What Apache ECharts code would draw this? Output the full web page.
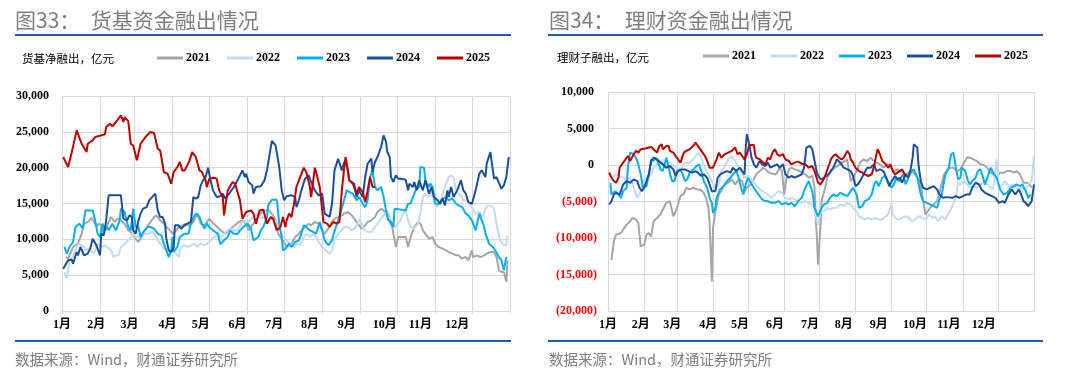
<!DOCTYPE html>
<html><head><meta charset="utf-8">
<script src="https://cdn.jsdelivr.net/npm/echarts@6/dist/echarts.min.js"></script>
<style>html,body{margin:0;padding:0;background:#fff}#c{width:1080px;height:373px}</style>
</head><body><div id="c"></div>
<script>
const years = ['2021','2022','2023','2024','2025'];
const colors = ['#a6a6a6','#c2dbf5','#00b0f0','#1a4fa0','#c00000'];
const monthLabels = ['1月','2月','3月','4月','5月','6月','7月','8月','9月','10月','11月','12月'];
const monthStartDays = [0,31,59,90,120,151,181,212,243,273,304,334,365];
const labelDays = [0,28,55,86,113,143,173,202,232,263,292,322];

// 货基净融出（亿元）: [day of year, value]
const mmf2021 = [[3,7530],[5,7300],[9,8930],[13,9390],[16,10790],[18,12180],[21,12415],[24,13020],[27,12180],[28,11720],[30,12180],[32,11950],[34,10790],[36,11720],[38,12415],[40,13110],[43,12415],[45,12880],[48,12650],[51,12180],[54,11250],[56,11020],[59,10320],[62,9630],[64,10090],[67,11020],[70,11950],[72,12415],[75,13110],[77,13350],[80,12650],[83,12180],[85,11720],[88,11250],[90,10790],[93,11250],[95,11720],[98,11950],[101,12180],[103,11950],[106,12180],[109,13110],[111,13350],[113,12180],[116,11950],[118,12415],[120,12880],[122,12415],[125,11950],[128,11490],[131,11020],[133,10790],[136,11250],[139,11720],[141,11950],[144,12415],[147,12650],[150,12180],[152,11250],[155,11950],[158,12650],[160,13110],[163,13810],[166,14040],[168,14140],[171,13580],[174,12650],[176,10790],[178,10320],[180,9860],[183,8930],[185,9160],[187,9390],[190,10320],[193,10790],[195,11250],[198,11720],[201,12180],[203,11950],[206,12415],[209,12180],[212,11250],[214,10790],[217,11490],[220,12415],[222,12880],[225,13110],[228,13350],[230,13580],[233,13810],[236,13350],[238,12880],[241,12180],[244,11490],[247,11950],[249,12415],[252,12650],[255,13110],[257,13810],[260,14280],[262,14040],[264,13580],[267,12415],[269,11720],[272,8930],[274,10320],[276,10320],[280,10320],[282,8930],[284,10320],[287,11720],[290,12415],[292,12180],[294,11250],[296,10790],[299,10090],[302,10320],[304,9390],[307,8930],[310,8700],[313,8460],[315,8230],[318,8000],[321,7770],[323,7770],[326,7300],[329,7530],[331,7070],[334,8460],[335,7530],[338,7770],[341,7530],[344,7770],[346,8000],[349,8230],[352,8230],[354,7530],[356,5670],[358,5440],[360,5440],[362,4050],[363,7070]];
const mmf2022 = [[2,5440],[4,4510],[6,7070],[9,7530],[12,8930],[14,9390],[16,9160],[18,8930],[20,8460],[22,8700],[26,8000],[29,9390],[32,8930],[35,9160],[37,8930],[40,8460],[42,7530],[44,7770],[46,7770],[48,8930],[51,9390],[54,9860],[56,10320],[58,10790],[60,10320],[63,10320],[66,10790],[68,10790],[71,10790],[74,11020],[77,10320],[79,9630],[82,8930],[85,8460],[87,8000],[90,8460],[93,8000],[95,7530],[97,8930],[100,9160],[102,8930],[105,9160],[108,9390],[110,8930],[113,9390],[116,9160],[118,9390],[121,9860],[124,10320],[127,10790],[129,10320],[132,10790],[135,11250],[137,11490],[140,11250],[143,11250],[145,11950],[148,12650],[151,12180],[154,12880],[156,13110],[159,13580],[162,12880],[164,13110],[167,12650],[170,12880],[172,12650],[175,12415],[178,11250],[180,10320],[183,9860],[186,9390],[189,8930],[191,9390],[194,9160],[197,10320],[199,10790],[202,10320],[205,10790],[207,10320],[210,9390],[212,8930],[215,8460],[218,8000],[220,8460],[222,9860],[225,10790],[228,11250],[230,11720],[233,11720],[236,11250],[238,11490],[241,12180],[243,12880],[245,11720],[247,11250],[249,11020],[252,11020],[255,11720],[257,12180],[260,12880],[263,13580],[265,14040],[267,13110],[269,12180],[272,11720],[275,12415],[278,13580],[280,14040],[282,12650],[284,11720],[287,11490],[290,12180],[292,13580],[294,15900],[296,16370],[299,15900],[301,16600],[303,15440],[305,14500],[308,14970],[310,16370],[313,17760],[315,18690],[317,18920],[319,18690],[321,16830],[323,16370],[326,15900],[327,15440],[330,15440],[333,14740],[335,14040],[337,13580],[340,13810],[343,13110],[345,14280],[347,14740],[350,14600],[352,14280],[353,13110],[355,11250],[357,9860],[360,9160],[362,9160],[363,10560]];
const mmf2023 = [[2,8930],[4,8000],[6,8930],[9,9630],[11,11720],[14,12180],[17,11490],[19,14040],[25,14040],[27,12650],[29,10790],[31,10320],[33,12180],[35,11250],[37,11720],[38,11250],[41,12180],[44,11250],[47,12650],[48,14280],[51,13810],[52,13110],[54,11720],[56,11250],[58,14280],[60,11720],[62,11950],[64,10320],[67,11250],[70,11720],[72,11720],[75,11490],[78,10790],[81,10560],[83,9390],[85,8460],[87,7530],[89,8460],[90,10320],[91,8230],[94,8930],[96,10320],[100,10790],[103,10790],[105,12180],[108,13350],[110,13580],[112,13110],[114,12180],[116,11490],[118,12180],[120,11720],[123,11250],[127,10790],[129,9300],[132,9860],[135,10320],[137,11250],[140,10790],[143,10700],[145,11250],[148,11720],[151,12180],[154,11490],[156,9860],[160,10320],[162,11250],[164,11720],[167,13110],[168,14740],[171,15530],[175,15530],[176,14040],[177,12180],[179,10320],[180,8460],[182,8700],[185,9390],[187,8930],[190,9630],[193,9860],[195,10790],[197,11950],[199,11720],[202,11250],[205,11020],[207,10790],[210,12415],[212,11250],[214,9860],[217,9160],[220,9860],[221,10560],[224,12180],[226,13110],[229,14970],[232,16830],[234,16600],[237,16370],[240,15440],[242,15900],[245,14970],[247,14500],[249,15440],[251,18690],[253,19620],[255,17300],[257,16830],[260,17300],[262,15900],[264,14040],[266,12650],[268,12415],[270,11720],[271,14280],[280,14040],[282,14970],[284,14970],[286,15900],[288,16830],[291,17300],[292,20090],[295,20000],[296,18230],[299,17300],[300,17760],[302,17300],[304,14970],[307,14970],[310,15670],[313,15900],[315,15440],[318,15670],[321,14970],[323,14740],[326,14500],[329,13580],[331,13350],[334,12650],[337,11250],[340,13580],[342,12650],[344,11720],[345,10790],[348,9390],[351,8930],[353,8460],[356,7530],[358,7070],[360,5670],[361,6600],[362,7530]];
const mmf2024 = [[1,5900],[2,5670],[5,7070],[8,7160],[9,6600],[12,8230],[13,7770],[15,8930],[18,7770],[21,8000],[23,8700],[25,10090],[28,9160],[31,7770],[32,10790],[34,10560],[36,12650],[38,16140],[48,16140],[50,12880],[51,13110],[53,12650],[55,13350],[57,13110],[58,11250],[60,10790],[62,12415],[64,13580],[66,14280],[67,14040],[69,14500],[71,15440],[74,16000],[76,16370],[77,15200],[78,14040],[80,13110],[82,13110],[84,12180],[85,10090],[87,8460],[89,8230],[91,8930],[92,11950],[95,11950],[97,11490],[100,11950],[102,12180],[105,12415],[107,15900],[109,15670],[111,15900],[113,17530],[115,18230],[117,18690],[119,20000],[121,18230],[123,16830],[126,15900],[129,16000],[131,16370],[133,15670],[137,16600],[140,17300],[143,18230],[147,19620],[149,18690],[150,19160],[152,18000],[155,17530],[156,16370],[158,17300],[162,17400],[165,18230],[167,19620],[169,21720],[171,23720],[174,23110],[177,20090],[179,16830],[181,15440],[183,16000],[187,16140],[190,15900],[191,14500],[193,15440],[195,16830],[198,18460],[201,18920],[203,18000],[206,16830],[209,16140],[212,16370],[214,13580],[218,13110],[220,14970],[222,19620],[225,21250],[228,19620],[230,20790],[232,20320],[234,18230],[238,17760],[240,15900],[242,16830],[245,15900],[247,18690],[249,20550],[252,21250],[253,19390],[255,20790],[257,21480],[260,22880],[262,24500],[264,23580],[265,22180],[267,21480],[268,18690],[270,18000],[272,18920],[274,18460],[276,18460],[280,18320],[282,16830],[283,17760],[286,17300],[287,18000],[289,16830],[291,18230],[294,16830],[296,18230],[299,16370],[301,17300],[303,15900],[306,15440],[308,14970],[310,15670],[312,14740],[314,16830],[315,15900],[317,17300],[319,15900],[322,16830],[325,18230],[327,16830],[329,16370],[331,15200],[334,14970],[337,16830],[340,19160],[342,19620],[345,18690],[346,20550],[349,22180],[352,18460],[354,18690],[358,17070],[360,17530],[362,18690],[364,21480]];
const mmf2025 = [[1,21480],[5,20090],[8,22180],[12,25200],[13,25300],[16,23340],[20,22180],[21,23340],[25,23800],[27,24270],[35,24650],[36,25670],[39,26130],[41,25760],[44,26370],[48,27300],[50,26370],[51,27060],[54,26500],[56,23340],[58,23100],[61,21020],[64,23340],[68,24270],[72,24970],[75,24830],[78,22650],[80,22400],[83,19390],[86,19160],[89,17760],[91,19390],[94,20090],[96,20790],[98,19620],[100,19620],[104,21020],[106,22180],[109,21480],[112,19620],[114,19390],[117,18230],[118,17300],[120,18460],[124,18600],[126,18460],[128,16830],[131,15900],[132,13350],[135,16830],[139,18000],[141,17760],[145,15440],[147,12880],[150,13810],[154,14040],[156,13580],[158,12180],[161,14040],[164,14140],[167,12180],[170,13110],[172,12880],[175,11250],[178,11720],[180,13110],[182,11720],[183,12650],[185,13580],[187,13110],[189,14970],[191,17300],[194,18690],[197,20000],[199,19390],[202,17300],[203,15900],[206,20000],[207,19390],[210,17300],[213,12415],[216,12180],[218,11720],[221,12415],[224,12180],[226,12415],[228,16830],[230,20090],[231,21480],[233,19620],[234,18230],[237,17760],[240,16370],[242,17300],[245,16600],[247,15200],[249,16830],[251,18690],[253,17300],[255,17300]];

// 理财子融出（亿元）: [day of year, value]
const wm2021 = [[3,-13000],[5,-10460],[7,-9540],[11,-9310],[14,-8620],[16,-8170],[19,-7710],[21,-7250],[24,-7480],[26,-7940],[28,-11150],[31,-10920],[33,-9540],[35,-9310],[37,-9770],[39,-7710],[42,-7250],[45,-6790],[47,-6100],[50,-5180],[53,-4950],[55,-6330],[56,-7020],[58,-6330],[60,-5410],[62,-4270],[65,-3950],[67,-3120],[70,-3350],[73,-3120],[76,-3350],[79,-3350],[82,-3810],[84,-4500],[86,-5870],[87,-7710],[89,-15960],[90,-8620],[92,-6330],[95,-4040],[97,-3580],[100,-2660],[103,-2430],[106,-1970],[109,-2660],[112,-1970],[115,-2200],[117,-3580],[119,-3120],[122,-2660],[124,-2200],[127,-1280],[130,-830],[133,-370],[135,-600],[138,-1050],[141,-1190],[144,-1280],[147,-370],[149,-830],[151,-4040],[153,-1740],[155,-600],[157,-370],[160,-600],[163,-730],[166,-1050],[169,-1280],[172,-1740],[175,-1510],[177,-3120],[178,-7250],[179,-10000],[180,-13670],[182,-8620],[183,-4950],[186,-3120],[188,-1740],[191,-830],[194,-370],[197,-140],[200,320],[203,550],[205,780],[206,-370],[208,-2200],[210,-1740],[213,-830],[216,320],[219,780],[222,550],[225,1000],[228,550],[230,320],[233,90],[236,-370],[239,90],[242,-370],[245,-830],[248,-600],[250,-830],[253,-1050],[256,-1280],[259,-830],[262,-1050],[265,-1740],[268,-2660],[270,-4950],[272,-6790],[274,-6330],[276,-5870],[279,-5410],[282,-4950],[285,-3120],[288,-1280],[290,-830],[293,-370],[296,-370],[299,-830],[302,-600],[305,320],[308,1100],[310,1000],[313,780],[316,550],[319,90],[322,0],[325,-370],[328,-1050],[330,-1280],[333,-1740],[336,-1050],[339,-1050],[342,-830],[345,-830],[348,-1050],[350,-830],[353,-1280],[356,-2430],[359,-2430],[361,-2660],[363,-3120]];
const wm2022 = [[2,-1740],[5,-1510],[7,-1280],[10,-1510],[13,-1740],[16,-1970],[19,-1740],[22,-3120],[25,-4500],[26,-4720],[28,-3580],[30,-2200],[33,-1740],[36,-1510],[39,-370],[42,90],[45,550],[47,320],[50,90],[53,320],[56,-140],[59,-370],[62,-830],[65,90],[67,320],[70,320],[73,780],[76,1470],[78,1700],[80,1000],[83,-370],[86,-1280],[89,-2200],[92,-3120],[95,-2660],[97,-830],[100,-140],[103,780],[106,1240],[109,550],[112,-370],[115,-1280],[117,-1740],[120,-1510],[123,-1970],[126,-2660],[129,-3120],[132,-3580],[135,-3810],[137,-4040],[140,-4500],[143,-4040],[146,-3580],[149,-3810],[152,-4500],[155,-4720],[157,-4500],[160,-4720],[163,-4950],[166,-5180],[169,-4950],[172,-5180],[175,-5410],[177,-5870],[179,-7710],[180,-8170],[182,-6560],[185,-6330],[188,-5870],[190,-6100],[193,-5870],[196,-5870],[199,-5410],[202,-5640],[205,-5180],[208,-5410],[210,-5870],[213,-6330],[215,-7020],[218,-7250],[220,-7480],[223,-7250],[226,-7480],[229,-7250],[232,-7480],[235,-7480],[238,-7020],[240,-6790],[243,-5180],[244,-6790],[246,-7250],[249,-7480],[252,-7250],[255,-7020],[258,-7250],[260,-7710],[263,-7480],[266,-7020],[269,-7250],[272,-7480],[275,-6790],[278,-7250],[280,-7020],[283,-7710],[286,-7020],[289,-7480],[292,-6560],[295,-5640],[298,-4500],[300,-2430],[302,-2660],[305,-2200],[308,-2660],[310,-3120],[313,-2890],[316,-3120],[319,-2660],[322,-2430],[325,-2660],[328,-3120],[330,-3350],[333,780],[335,-3120],[338,-2660],[340,-2200],[343,-2890],[346,-2660],[349,-2890],[352,-3350],[355,-3120],[358,-3350],[360,-2660],[363,-2200],[365,1240]];
const wm2023 = [[2,-2430],[3,-4040],[6,-3580],[9,-4040],[11,-4500],[13,-3580],[16,-3120],[17,-370],[19,1700],[22,1470],[24,1000],[26,90],[28,-1280],[30,-3120],[33,-2890],[35,-1280],[37,780],[39,550],[41,1000],[43,320],[45,-600],[47,-830],[50,1000],[52,-370],[54,-1740],[55,-2200],[57,-2200],[59,-830],[62,-600],[64,-1280],[66,-2200],[68,-1970],[70,-1050],[73,-600],[76,-140],[78,90],[80,-830],[82,-2200],[85,-3120],[87,-4500],[89,-5180],[90,-6560],[92,-5870],[93,-4500],[96,-3350],[99,-2890],[102,-2200],[105,-1740],[107,-1280],[110,-830],[112,-1740],[114,-3120],[116,-4040],[118,-2660],[120,-1740],[123,-2660],[126,-3350],[129,-4040],[132,-4720],[135,-4950],[137,-4950],[140,-5180],[143,-5180],[146,-4950],[149,-5410],[152,-5180],[155,-5410],[157,-5180],[160,-5640],[163,-4950],[166,-4500],[169,-3120],[172,-2200],[175,-3580],[177,-5870],[180,-7020],[183,-5870],[185,-5410],[188,-5180],[190,-4500],[193,-4040],[196,-4270],[199,-3810],[202,-4040],[205,-4270],[208,-3580],[210,-3120],[213,-4040],[215,-5870],[218,-5640],[220,-4950],[223,-4720],[226,-4040],[228,-2660],[230,-2200],[232,-2890],[235,-1740],[237,-1510],[239,-1970],[241,-2660],[243,-3120],[245,-2660],[247,-1740],[249,-2200],[251,-1740],[253,-1280],[255,-2660],[258,-1510],[260,-830],[262,-600],[265,-1740],[268,-4040],[270,-4950],[273,-5180],[276,-5410],[279,-5640],[282,-5870],[284,-4720],[286,-4040],[289,-1280],[292,-370],[294,1470],[296,1700],[298,-370],[300,-1970],[302,-1740],[303,-370],[306,-830],[308,-1970],[310,-2660],[312,-2200],[315,-1740],[317,-830],[319,-600],[321,-1510],[323,-2660],[326,-1280],[328,-370],[330,-1050],[333,-1740],[336,-3350],[339,-4040],[342,-3810],[345,-3120],[348,-2890],[350,-2660],[353,-2890],[355,-2660],[358,-3580],[360,-4500],[362,-4040]];
const wm2024 = [[1,-5410],[3,-4950],[5,-4040],[7,-3810],[10,-4040],[13,-2660],[16,-2200],[19,-2430],[22,-1970],[25,-2200],[27,-3120],[29,-3580],[31,-3120],[33,-2200],[35,-1280],[37,550],[39,1000],[42,780],[45,320],[47,90],[50,-370],[53,-140],[56,-600],[58,-1510],[60,-830],[63,-600],[66,-600],[69,-830],[72,-1050],[75,-830],[77,-1050],[80,-1510],[82,-1280],[85,-1740],[87,-2660],[89,-3580],[92,-3580],[94,-1740],[96,-1280],[99,-1050],[102,-830],[105,-1050],[107,-370],[110,-830],[113,-370],[115,-830],[117,-1280],[118,2390],[119,4220],[121,2840],[123,1000],[125,90],[127,-370],[130,550],[132,90],[135,-140],[137,320],[139,-370],[142,-140],[145,90],[147,-370],[150,90],[152,-1280],[155,-1740],[157,-1510],[160,-1740],[163,-1510],[166,-1280],[168,-370],[170,2390],[173,2610],[175,2160],[177,550],[179,-1050],[181,-1740],[183,-1970],[185,-1740],[188,-1380],[190,-1050],[193,-370],[196,780],[199,320],[202,-370],[205,-600],[208,-830],[210,-1510],[212,-2890],[214,-2660],[216,-2200],[219,-1280],[222,-370],[225,-370],[228,90],[230,-830],[233,-600],[236,-830],[239,-1970],[241,-2890],[243,-2200],[246,-1510],[248,-1970],[250,-1740],[252,-2430],[255,-1280],[257,-1740],[259,-830],[261,1000],[262,2840],[265,2390],[266,90],[268,-2200],[270,-3120],[273,-3350],[276,-3120],[279,-2890],[282,-3350],[284,-4040],[287,-4500],[290,-4400],[295,-4500],[298,-4270],[301,-4500],[304,-4270],[307,-4040],[310,-4040],[312,-3120],[315,-2430],[318,-2660],[320,-3350],[323,-3810],[326,-4040],[329,-4270],[332,-4500],[335,-5180],[338,-4950],[340,-5180],[343,-4040],[346,-3350],[349,-4040],[352,-3350],[354,-4040],[356,-4950],[358,-5180],[360,-5640],[363,-4950],[365,-2660]];
const wm2025 = [[1,-1050],[3,-1740],[5,-2200],[7,-2430],[9,-1740],[10,-370],[13,320],[15,780],[17,1240],[19,550],[20,320],[22,1470],[24,1930],[26,1700],[28,2160],[32,2250],[35,2390],[37,2480],[39,2160],[42,1700],[44,2610],[46,2840],[47,2160],[50,2610],[52,2610],[53,1930],[56,1700],[59,1000],[62,320],[65,1700],[67,1930],[70,2160],[73,2610],[75,3070],[77,2610],[80,1930],[83,1240],[85,550],[87,-370],[90,-370],[93,780],[95,1700],[97,1000],[98,1240],[100,1470],[103,1700],[106,1930],[109,2390],[111,1470],[113,1700],[115,1240],[117,780],[119,1470],[121,2750],[125,2750],[126,1470],[127,1000],[130,780],[133,320],[135,90],[137,1000],[139,780],[141,1700],[143,2160],[145,1470],[147,1240],[150,1470],[152,780],[155,550],[157,90],[160,320],[163,460],[166,180],[169,90],[172,-370],[175,-140],[177,-830],[180,-2430],[182,-2660],[184,-2200],[186,-1510],[189,-140],[191,780],[193,1240],[195,1470],[198,1000],[200,780],[202,1000],[205,1930],[207,1470],[208,780],[210,320],[212,-370],[215,-830],[218,-1050],[220,-1280],[223,-1510],[226,-1280],[228,-140],[230,1470],[231,2160],[233,1470],[235,550],[238,90],[240,-370],[242,90],[244,-830],[246,-1280],[248,-1050],[250,-830],[252,-600],[255,-1510]];

const mmfSeries = [mmf2021, mmf2022, mmf2023, mmf2024, mmf2025];
const wmSeries = [wm2021, wm2022, wm2023, wm2024, wm2025];

const days = [];
for (let d = 0; d <= 365; d++) days.push(String(d));
const labelMap = {};
labelDays.forEach((d, i) => { labelMap[d] = monthLabels[i]; });
const monthSet = new Set(monthStartDays);

const SERIF = '"Liberation Serif","Times New Roman","Noto Sans CJK SC",serif';
const CJK = '"Noto Sans CJK SC","Microsoft YaHei",sans-serif';
const GRID_C = '#d9d9d9';

function fmtNum(v) {
  const s = Math.abs(v).toString().replace(/\B(?=(\d{3})+(?!\d))/g, ',');
  return s;
}

function xAxis(gi) {
  return {
    type: 'category', gridIndex: gi, data: days, boundaryGap: false,
    axisLine: { show: true, lineStyle: { color: GRID_C, width: 1 } },
    axisTick: { show: true, length: 3, interval: (i) => monthSet.has(i), lineStyle: { color: GRID_C } },
    splitLine: { show: true, interval: (i) => monthSet.has(i), lineStyle: { color: GRID_C, width: 1 } },
    axisLabel: {
      interval: (i) => labelMap[i] !== undefined,
      formatter: (v) => labelMap[+v] || '',
      margin: 8, fontFamily: SERIF, fontWeight: 'bold', fontSize: 12, color: '#000'
    }
  };
}

function yAxis(gi, min, max, paren) {
  return {
    type: 'value', gridIndex: gi, min: min, max: max, interval: 5000,
    axisLine: { show: false }, axisTick: { show: false },
    splitLine: { show: true, lineStyle: { color: GRID_C, width: 1 } },
    axisLabel: {
      margin: paren ? 11 : 13, fontFamily: SERIF, fontWeight: 'bold', fontSize: 12,
      color: (val) => (parseFloat(val) < 0 ? '#ff0000' : '#000'),
      formatter: (v) => {
        if (!paren) return fmtNum(v);
        return v < 0 ? '(' + fmtNum(v) + ')' : fmtNum(v) + ' ';
      }
    }
  };
}

function series(list, gi) {
  return list.map((data, i) => ({
    name: years[i], type: 'line', xAxisIndex: gi, yAxisIndex: gi,
    data: data, symbol: 'none', showSymbol: false, smooth: false,
    lineStyle: { width: 2, color: colors[i] }, itemStyle: { color: colors[i] },
    animation: false, z: 2 + i
  }));
}

function legend(left, top, gap) {
  return {
    left: left, top: top, padding: 0, itemGap: gap, icon: 'rect',
    itemWidth: 26, itemHeight: 3, selectedMode: false,
    data: years,
    textStyle: { fontFamily: SERIF, fontWeight: 'bold', fontSize: 12, color: '#000', padding: [0, 0, 0, -2] }
  };
}

const chart = echarts.init(document.getElementById('c'), null, { renderer: 'canvas' });
chart.setOption({
  animation: false,
  backgroundColor: '#fff',
  grid: [
    { left: 62, right: 570, top: 96, bottom: 62, containLabel: false },
    { left: 608, right: 46, top: 92, bottom: 62, containLabel: false }
  ],
  xAxis: [xAxis(0), xAxis(1)],
  yAxis: [yAxis(0, 0, 30000, false), yAxis(1, -20000, 10000, true)],
  legend: [legend(157, 52, 17), legend(703, 50, 15)],
  series: series(mmfSeries, 0).concat(series(wmSeries, 1)),
  graphic: [
    { type: 'text', x: 15, y: 20, style: { text: '图33：　货基资金融出情况', font: '21px ' + CJK, fill: '#7f7f7f', verticalAlign: 'middle' } },
    { type: 'text', x: 549, y: 20, style: { text: '图34：　理财资金融出情况', font: '21px ' + CJK, fill: '#7f7f7f', verticalAlign: 'middle' } },
    { type: 'line', shape: { x1: 15, y1: 35, x2: 511, y2: 35 }, style: { stroke: '#1f5aa8', lineWidth: 2 } },
    { type: 'line', shape: { x1: 548, y1: 35, x2: 1043, y2: 35 }, style: { stroke: '#1f5aa8', lineWidth: 2 } },
    { type: 'text', x: 22, y: 59, style: { text: '货基净融出，亿元', font: '11.5px ' + CJK, fill: '#000', verticalAlign: 'middle' } },
    { type: 'text', x: 557, y: 58, style: { text: '理财子融出，亿元', font: '11.5px ' + CJK, fill: '#000', verticalAlign: 'middle' } },
    { type: 'line', shape: { x1: 15, y1: 341, x2: 511, y2: 341 }, style: { stroke: '#1f5aa8', lineWidth: 2 } },
    { type: 'line', shape: { x1: 548, y1: 341, x2: 1043, y2: 341 }, style: { stroke: '#1f5aa8', lineWidth: 2 } },
    { type: 'text', x: 15, y: 359, style: { text: '数据来源：Wind，财通证券研究所', font: '14.5px ' + CJK, fill: '#7f7f7f', verticalAlign: 'middle' } },
    { type: 'text', x: 549, y: 359, style: { text: '数据来源：Wind，财通证券研究所', font: '14.5px ' + CJK, fill: '#7f7f7f', verticalAlign: 'middle' } }
  ]
});
</script>
</body></html>
